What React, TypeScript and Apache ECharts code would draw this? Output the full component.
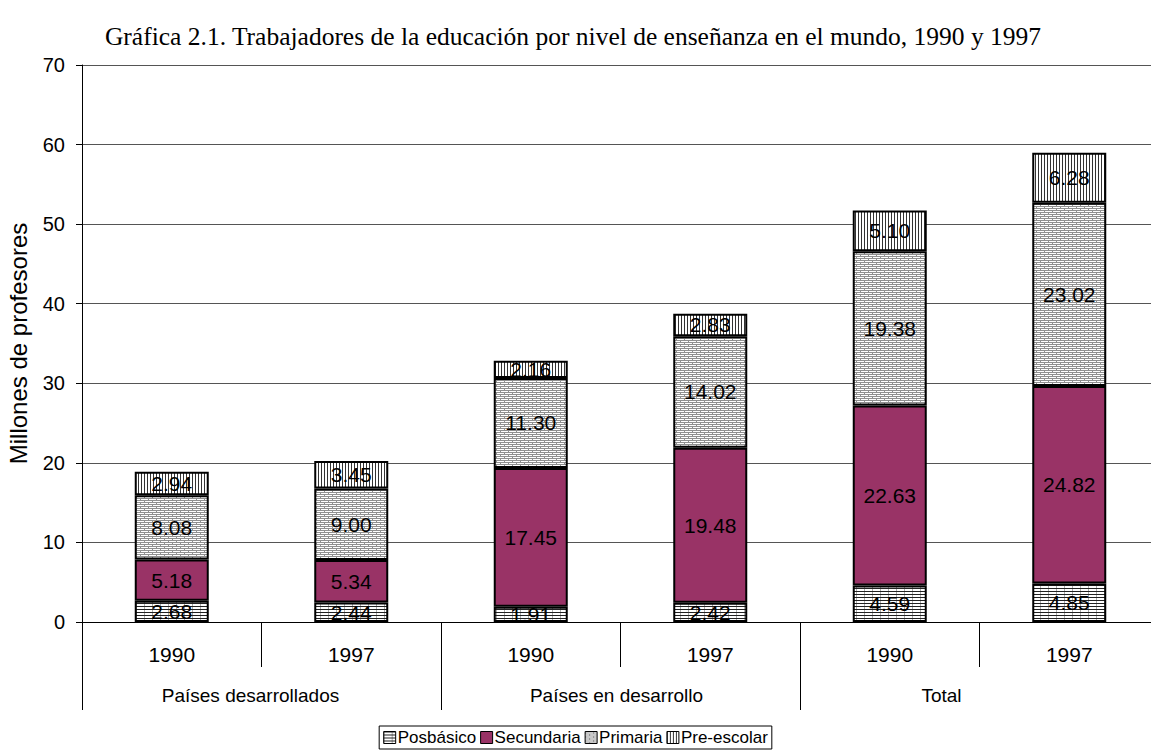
import React, { useEffect, useRef } from 'react';
import * as echarts from 'echarts';

const title = 'Gráfica 2.1. Trabajadores de la educación por nivel de enseñanza en el mundo, 1990 y 1997';
const years = ['1990', '1997', '1990', '1997', '1990', '1997'];
const groups = ['Países desarrollados', 'Países en desarrollo', 'Total'];
const seriesNames = ['Posbásico', 'Secundaria', 'Primaria', 'Pre-escolar'];
const posbasico = [2.68, 2.44, 1.91, 2.42, 4.59, 4.85];
const secundaria = [5.18, 5.34, 17.45, 19.48, 22.63, 24.82];
const primaria = [8.08, 9.0, 11.3, 14.02, 19.38, 23.02];
const preescolar = [2.94, 3.45, 2.16, 2.83, 5.1, 6.28];

function makeTile(w: number, h: number, draw: (ctx: CanvasRenderingContext2D) => void) {
  const c = document.createElement('canvas');
  c.width = w;
  c.height = h;
  const ctx = c.getContext('2d')!;
  ctx.fillStyle = '#fff';
  ctx.fillRect(0, 0, w, h);
  draw(ctx);
  return { image: c.toDataURL(), repeat: 'repeat', imageWidth: w, imageHeight: h } as any;
}

export default function App() {
  const ref = useRef<HTMLDivElement>(null);
  useEffect(() => {
    if (!ref.current) return;
    const chart = echarts.init(ref.current, null, { renderer: 'svg' });

    const hLines = makeTile(8, 3, (ctx) => {
      ctx.fillStyle = '#222';
      ctx.fillRect(0, 0, 8, 1);
      ctx.fillStyle = '#aaa';
      ctx.fillRect(0, 1, 1, 2);
    });
    const brick = makeTile(8, 4, (ctx) => {
      ctx.fillStyle = '#909090';
      ctx.fillRect(0, 0, 8, 1);
      ctx.fillRect(0, 2, 8, 1);
      ctx.fillRect(0, 1, 1, 1);
      ctx.fillRect(4, 3, 1, 1);
    });
    const vLines = makeTile(3, 4, (ctx) => {
      ctx.fillStyle = '#333';
      ctx.fillRect(0, 0, 1, 4);
    });
    const fills = [hLines, '#993366', brick, vLines];
    const datas = [posbasico, secundaria, primaria, preescolar];

    const font = 'Arial, "Liberation Sans", sans-serif';
    const groupText = { fontFamily: font, fontSize: 19, color: '#000' };

    chart.setOption({
      animation: false,
      backgroundColor: '#fff',
      title: {
        text: title,
        left: 568,
        textAlign: 'center',
        top: 18,
        textStyle: { fontFamily: '"Times New Roman", "Liberation Serif", serif', fontSize: 25.5, fontWeight: 'normal', color: '#000' },
      },
      legend: {
        data: seriesNames,
        left: 'center',
        top: 726,
        padding: [3, 4, 3, 4],
        borderColor: '#000',
        borderWidth: 1,
        itemWidth: 12,
        itemHeight: 12,
        itemGap: 4,
        icon: 'rect',
        itemStyle: { borderColor: '#000', borderWidth: 1 },
        textStyle: { fontFamily: font, fontSize: 17, color: '#000', padding: [0, 0, 0, -3] },
      },
      grid: { left: 82, right: -8, top: 65, bottom: 133, outerBoundsMode: 'none', containLabel: false },
      xAxis: [
        {
          type: 'category',
          data: years,
          position: 'bottom',
          axisLine: { lineStyle: { color: '#000', width: 1 } },
          axisTick: { show: true, alignWithLabel: false, length: 45, lineStyle: { color: '#000' } },
          axisLabel: { fontFamily: font, fontSize: 21, color: '#000', margin: 22 },
        },
        {
          type: 'category',
          data: groups,
          position: 'bottom',
          axisLine: { show: true, lineStyle: { color: '#000', width: 1 } },
          axisTick: { show: true, alignWithLabel: false, length: 88, lineStyle: { color: '#000' } },
          axisLabel: {
            ...groupText,
            margin: 64,
            formatter: (v: string, i: number) => `{g${i}|${v}}`,
            rich: {
              g0: { ...groupText, padding: [0, 22, 0, 0] },
              g1: { ...groupText, padding: [0, 8, 0, 0] },
              g2: { ...groupText, padding: [0, 76, 0, 0] },
            },
          },
        },
      ],
      yAxis: {
        type: 'value',
        min: 0,
        max: 70,
        interval: 10,
        name: 'Millones de profesores',
        nameLocation: 'middle',
        nameGap: 52,
        nameTextStyle: { fontFamily: font, fontSize: 24, color: '#000' },
        axisLine: { show: true, lineStyle: { color: '#000' } },
        axisTick: { show: true, length: 6, lineStyle: { color: '#000' } },
        axisLabel: { fontFamily: font, fontSize: 20, color: '#000', margin: 17 },
        splitLine: { show: true, lineStyle: { color: '#555', width: 1 } },
      },
      series: seriesNames.map((name, i) => ({
        name,
        type: 'bar',
        stack: 'total',
        xAxisIndex: 0,
        barWidth: 74,
        data: datas[i],
        itemStyle: { color: fills[i], borderColor: '#000', borderWidth: 2 },
        label: {
          show: true,
          position: 'inside',
          fontFamily: font,
          fontSize: 21,
          color: '#000',
          formatter: (p: any) => Number(p.value).toFixed(2),
        },
      })),
    });
    return () => chart.dispose();
  }, []);
  return <div ref={ref} style={{ position: 'absolute', left: 0, top: 0, width: 1151, height: 755 }} />;
}
